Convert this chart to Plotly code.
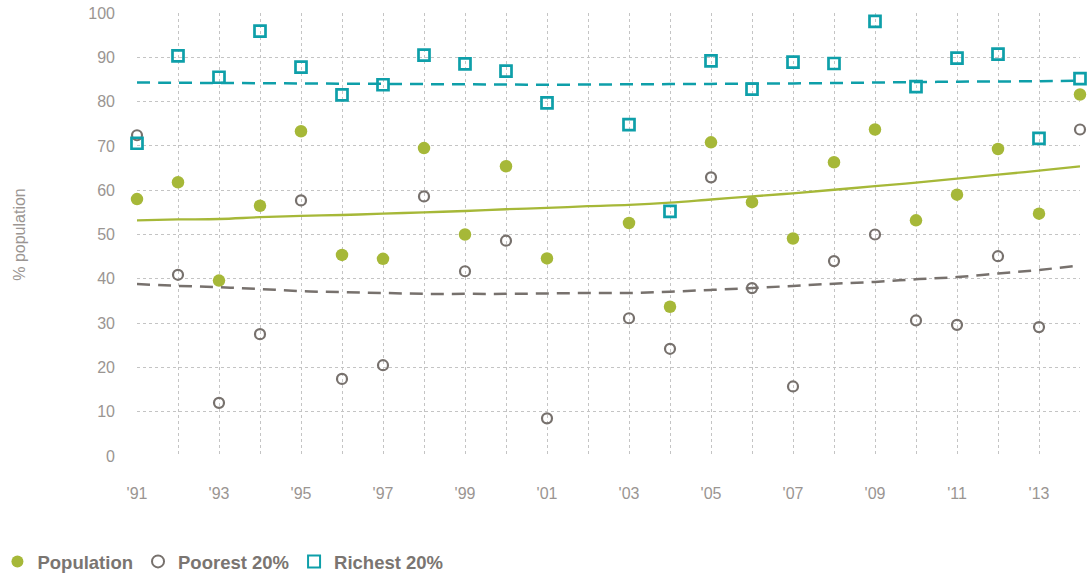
import plotly.graph_objects as go

years = [1991, 1992, 1993, 1994, 1995, 1996, 1997, 1998, 1999, 2000, 2001,
         2003, 2004, 2005, 2006, 2007, 2008, 2009, 2010, 2011, 2012, 2013, 2014]
population = [58.0, 61.8, 39.6, 56.5, 73.3, 45.4, 44.5, 69.5, 50.0, 65.4, 44.6,
              52.6, 33.7, 70.8, 57.3, 49.1, 66.3, 73.7, 53.2, 59.0, 69.3, 54.7, 81.6]
poorest = [72.4, 40.9, 12.0, 27.5, 57.7, 17.4, 20.5, 58.6, 41.7, 48.6, 8.5,
           31.1, 24.2, 62.9, 37.9, 15.7, 44.0, 50.0, 30.6, 29.6, 45.1, 29.1, 73.7]
richest = [70.6, 90.3, 85.5, 95.9, 87.8, 81.5, 83.8, 90.5, 88.5, 86.9, 79.7,
           74.8, 55.2, 89.2, 82.8, 88.9, 88.6, 98.1, 83.4, 89.8, 90.7, 71.7, 85.2]

# trend lines at each year
trend_years = list(range(1991, 2015))
population_trend = [53.2, 53.4, 53.5, 53.9, 54.2, 54.4, 54.7, 55.0, 55.3, 55.7, 56.0, 56.4,
                    56.7, 57.2, 57.9, 58.6, 59.3, 60.1, 60.9, 61.7, 62.6, 63.5, 64.4, 65.4]
poorest_trend = [38.8, 38.4, 38.1, 37.7, 37.2, 37.0, 36.8, 36.6, 36.6, 36.6, 36.7, 36.8,
                 36.8, 37.1, 37.5, 37.9, 38.4, 38.9, 39.3, 39.9, 40.4, 41.2, 42.0, 43.0]
richest_trend = [84.3, 84.25, 84.2, 84.15, 84.1, 84.05, 84.0, 83.95, 83.9, 83.85, 83.8, 83.85,
                 83.9, 83.95, 84.0, 84.05, 84.1, 84.2, 84.3, 84.4, 84.5, 84.55, 84.6, 84.7]

grid_years = list(range(1991, 2015))
tick_text = ["'" + str(y)[2:] if (y % 2 == 1 and y <= 2013) else "" for y in grid_years]

GREEN = "#a6b838"
GRAY = "#77716d"
TEAL = "#0e9fa9"
TXT = "#9a9592"

fig = go.Figure()

fig.add_trace(go.Scatter(x=trend_years, y=richest_trend, mode="lines", line_shape="spline",
                         line=dict(color=TEAL, width=2.5, dash="13px,8px"),
                         showlegend=False, hoverinfo="skip"))
fig.add_trace(go.Scatter(x=trend_years, y=poorest_trend, mode="lines", line_shape="spline",
                         line=dict(color=GRAY, width=2.5, dash="13px,8px"),
                         showlegend=False, hoverinfo="skip"))
fig.add_trace(go.Scatter(x=trend_years, y=population_trend, mode="lines", line_shape="spline",
                         line=dict(color=GREEN, width=2.3),
                         showlegend=False, hoverinfo="skip"))

fig.add_trace(go.Scatter(x=years, y=population, mode="markers", name="Population",
                         marker=dict(symbol="circle", size=12.5, color=GREEN,
                                     line=dict(width=0)), cliponaxis=False))
fig.add_trace(go.Scatter(x=years, y=poorest, mode="markers", name="Poorest 20%",
                         marker=dict(symbol="circle-open", size=10, color=GRAY,
                                     line=dict(width=2.2, color=GRAY)), cliponaxis=False))
fig.add_trace(go.Scatter(x=years, y=richest, mode="markers", name="Richest 20%",
                         marker=dict(symbol="square-open", size=11, color=TEAL,
                                     line=dict(width=2.7, color=TEAL)), cliponaxis=False))

fig.update_layout(
    width=1092, height=577,
    margin=dict(l=137, r=12, t=13, b=121, autoexpand=False),
    paper_bgcolor="white", plot_bgcolor="white",
    font=dict(family="Liberation Sans, Arial, sans-serif", color=TXT, size=16),
    showlegend=True,
    legend=dict(orientation="h", x=-0.148, xanchor="left", y=-0.239, yanchor="middle",
                font=dict(size=18.5, color="#7a7571", weight="bold"),
                traceorder="normal", itemsizing="constant"),
    xaxis=dict(range=[1991, 2014], tickvals=grid_years, ticktext=tick_text,
               automargin=False,
               showgrid=True, gridcolor="#c4c4c4", griddash="dot", gridwidth=1,
               zeroline=False, showline=False, ticks="", ticklabelstandoff=26,
               tickfont=dict(size=16, color=TXT)),
    yaxis=dict(range=[0, 100], dtick=10, showgrid=True, gridcolor="#c4c4c4",
               automargin=False, ticklabeloverflow="allow",
               griddash="dot", gridwidth=1, zeroline=False, showline=False, ticks="",
               ticklabelstandoff=21, tickfont=dict(size=16, color=TXT),
               title=dict(text="% population", font=dict(size=16, color=TXT), standoff=58)),
)

# remove the browser's default 8px body margin so the figure fills the window exactly
fig.write_html("out.html", config={"displayModeBar": False},
               post_script="document.body.style.margin='0';")
